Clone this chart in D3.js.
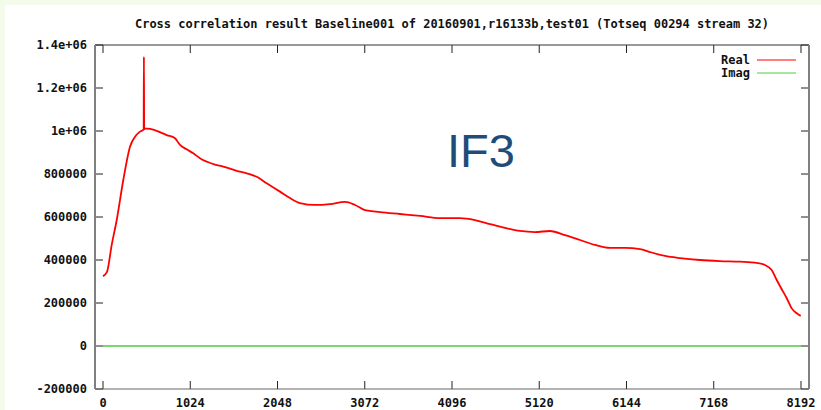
<!DOCTYPE html>
<html>
<head>
<meta charset="utf-8">
<script src="https://cdn.jsdelivr.net/npm/d3@7"></script>
<style>
  html, body { margin: 0; padding: 0; background: #f4fbea; }
  svg { display: block; }
  .mono { font-family: "DejaVu Sans Mono", "Liberation Mono", monospace; font-size: 12px; font-weight: bold; fill: #111; }
</style>
</head>
<body>
<div class="chart"></div>
<script>
// lag (x) and cross correlation value (y)
const lags = [0, 47, 102, 161, 238, 317, 376, 434, 477, 480, 483, 493, 630, 748, 845, 904, 982, 1060, 1138, 1295,
  1412, 1569, 1687, 1804, 1921, 2077, 2195, 2312, 2488, 2664, 2840, 2958, 3075, 3251, 3486, 3721, 3955, 4190,
  4366, 4542, 4718, 4894, 5070, 5246, 5422, 5599, 5775, 5951, 6127, 6303, 6420, 6596, 6772, 7006, 7241, 7476,
  7672, 7769, 7848, 7907, 7966, 8025, 8083, 8142, 8189];
const real = [325000, 345000, 470000, 586000, 772000, 927000, 973000, 997000, 1006000, 1345000, 1008000, 1012000,
  1001000, 981000, 966000, 935000, 915000, 896000, 873000, 846000, 834000, 815000, 803000, 787000, 757000, 718000,
  688000, 665000, 656000, 660000, 670000, 656000, 632000, 623000, 614000, 605000, 595000, 595000, 586000, 567000,
  549000, 535000, 530000, 535000, 516000, 493000, 470000, 456000, 456000, 451000, 437000, 419000, 409000, 400000,
  395000, 392000, 387000, 377000, 353000, 307000, 264000, 222000, 175000, 152000, 140000];
const imagLags = [0, 8192];
const imag = [0, 0];

const xTicks = [0, 1024, 2048, 3072, 4096, 5120, 6144, 7168, 8192];
const yTicks = [-200000, 0, 200000, 400000, 600000, 800000, 1000000, 1200000, 1400000];
const yTickLabels = ["-200000", "0", "200000", "400000", "600000", "800000", "1e+06", "1.2e+06", "1.4e+06"];

const title = "Cross correlation result Baseline001 of 20160901,r16133b,test01 (Totseq 00294 stream 32)";
const seriesNames = ["Real", "Imag"];
const seriesColors = ["#ff0000", "#4ccc3c"];

var cfg = {
  width: 821,
  height: 410,
  plot: {left: 95, right: 809, top: 45, bottom: 389}
};

var scale = {
  x: d3.scaleLinear().domain([-94, 8286]).range([cfg.plot.left, cfg.plot.right]),
  y: d3.scaleLinear().domain([-200000, 1400000]).range([cfg.plot.bottom, cfg.plot.top])
};

function initFrame(svg){
  // white canvas inside the pale green page
  svg.append("rect")
    .attr("x", 5).attr("y", 5)
    .attr("width", cfg.width - 5).attr("height", cfg.height - 5)
    .attr("fill", "#ffffff");

  // title
  svg.append("text")
    .attr("class", "mono")
    .attr("x", (cfg.plot.left + cfg.plot.right) / 2)
    .attr("y", 28)
    .attr("text-anchor", "middle")
    .attr("textLength", 634)
    .attr("lengthAdjust", "spacingAndGlyphs")
    .text(title);
}

function initAxis(svg){
  let p = cfg.plot;
  let tickLen = 8;

  // y ticks, left and mirrored right
  let yg = svg.append("g");
  yg.selectAll("line.l").data(yTicks).enter().append("line")
    .attr("x1", p.left).attr("x2", p.left + tickLen)
    .attr("y1", d => scale.y(d)).attr("y2", d => scale.y(d))
    .attr("stroke", "#222").attr("stroke-width", 1);
  yg.selectAll("line.r").data(yTicks).enter().append("line")
    .attr("x1", p.right).attr("x2", p.right - tickLen)
    .attr("y1", d => scale.y(d)).attr("y2", d => scale.y(d))
    .attr("stroke", "#222").attr("stroke-width", 1);
  yg.selectAll("text").data(yTicks).enter().append("text")
    .attr("class", "mono")
    .attr("x", 87)
    .attr("y", d => scale.y(d))
    .attr("dy", "0.35em")
    .attr("text-anchor", "end")
    .text((d, i) => yTickLabels[i]);

  // x ticks, bottom and mirrored top
  let xg = svg.append("g");
  xg.selectAll("line.b").data(xTicks).enter().append("line")
    .attr("x1", d => scale.x(d)).attr("x2", d => scale.x(d))
    .attr("y1", p.bottom).attr("y2", p.bottom - tickLen)
    .attr("stroke", "#222").attr("stroke-width", 1);
  xg.selectAll("line.t").data(xTicks).enter().append("line")
    .attr("x1", d => scale.x(d)).attr("x2", d => scale.x(d))
    .attr("y1", p.top).attr("y2", p.top + tickLen)
    .attr("stroke", "#222").attr("stroke-width", 1);
  xg.selectAll("text").data(xTicks).enter().append("text")
    .attr("class", "mono")
    .attr("x", d => scale.x(d))
    .attr("y", 407)
    .attr("text-anchor", "middle")
    .text(d => d);
}

function initBorder(svg){
  let p = cfg.plot;
  svg.append("line").attr("x1", p.left).attr("x2", p.right).attr("y1", p.top).attr("y2", p.top)
    .attr("stroke", "#333").attr("stroke-width", 1);
  svg.append("line").attr("x1", p.left).attr("x2", p.right).attr("y1", p.bottom).attr("y2", p.bottom)
    .attr("stroke", "#666").attr("stroke-width", 1.2);
  svg.append("line").attr("x1", p.left).attr("x2", p.left).attr("y1", p.top).attr("y2", p.bottom)
    .attr("stroke", "#808080").attr("stroke-width", 2);
  svg.append("line").attr("x1", p.right).attr("x2", p.right).attr("y1", p.top).attr("y2", p.bottom)
    .attr("stroke", "#808080").attr("stroke-width", 2);
}

function drawSeries(svg){
  let line = d3.line()
    .x(d => scale.x(d[0]))
    .y(d => scale.y(d[1]))
    .curve(d3.curveMonotoneX);

  // imag: flat zero line
  svg.append("path")
    .datum(d3.zip(imagLags, imag))
    .attr("d", line)
    .attr("fill", "none")
    .attr("stroke", seriesColors[1])
    .attr("stroke-width", 1.6);

  // real
  svg.append("path")
    .datum(d3.zip(lags, real))
    .attr("d", line)
    .attr("fill", "none")
    .attr("stroke", seriesColors[0])
    .attr("stroke-width", 1.8)
    .attr("stroke-linejoin", "round");
}

function drawLegend(svg){
  let lg = svg.append("g");
  seriesNames.forEach((name, i) => {
    let y = 60 + i * 13;
    lg.append("text")
      .attr("class", "mono")
      .attr("x", 750)
      .attr("y", y)
      .attr("dy", "0.35em")
      .attr("text-anchor", "end")
      .text(name);
    lg.append("line")
      .attr("x1", 757).attr("x2", 796)
      .attr("y1", y).attr("y2", y)
      .attr("stroke", seriesColors[i])
      .attr("stroke-width", 1);
  });
}

function drawNote(svg){
  svg.append("text")
    .attr("x", 447)
    .attr("y", 167)
    .style("font-family", "'Liberation Sans', Arial, sans-serif")
    .style("font-size", "47px")
    .style("fill", "#1f4d7a")
    .text("IF3");
}

function createViz(){
  let svg = d3.select(".chart").append("svg")
    .attr("width", cfg.width)
    .attr("height", cfg.height);

  initFrame(svg);
  drawSeries(svg);
  initAxis(svg);
  initBorder(svg);
  drawLegend(svg);
  drawNote(svg);
}

createViz();
</script>
</body>
</html>
